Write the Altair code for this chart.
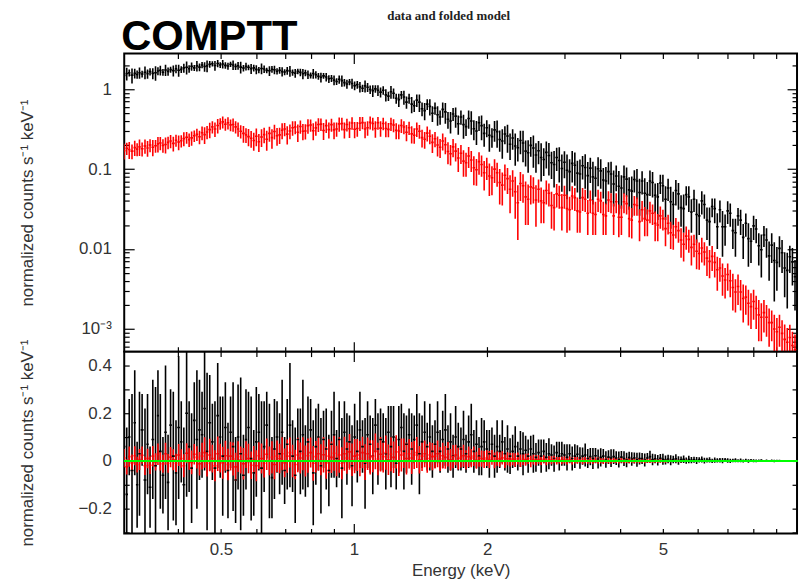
import altair as alt
import pandas as pd

# Spectral bin edges (keV), shared by both data groups
energy_edges = [0.300, 0.304, 0.308, 0.312, 0.317, 0.321, 0.325, 0.329, 0.334, 0.339,
                0.343, 0.348, 0.353, 0.358, 0.362, 0.367, 0.372, 0.377, 0.382, 0.387,
                0.393, 0.398, 0.404, 0.409, 0.415, 0.421, 0.426, 0.432, 0.438, 0.444,
                0.450, 0.456, 0.462, 0.468, 0.475, 0.481, 0.488, 0.495, 0.501, 0.508,
                0.515, 0.522, 0.529, 0.536, 0.543, 0.550, 0.558, 0.566, 0.573, 0.581,
                0.589, 0.597, 0.605, 0.613, 0.622, 0.630, 0.639, 0.648, 0.656, 0.665,
                0.674, 0.683, 0.692, 0.701, 0.711, 0.721, 0.731, 0.741, 0.751, 0.761,
                0.771, 0.781, 0.792, 0.803, 0.814, 0.825, 0.836, 0.847, 0.859, 0.871,
                0.883, 0.895, 0.907, 0.919, 0.932, 0.945, 0.957, 0.970, 0.983, 0.996,
                1.010, 1.024, 1.038, 1.052, 1.066, 1.080, 1.095, 1.110, 1.125, 1.140,
                1.156, 1.172, 1.188, 1.204, 1.220, 1.237, 1.254, 1.271, 1.288, 1.305,
                1.323, 1.341, 1.359, 1.377, 1.396, 1.415, 1.435, 1.454, 1.474, 1.494,
                1.514, 1.535, 1.555, 1.576, 1.598, 1.620, 1.642, 1.664, 1.686, 1.709,
                1.733, 1.757, 1.780, 1.804, 1.829, 1.854, 1.879, 1.905, 1.930, 1.956,
                1.983, 2.010, 2.037, 2.065, 2.093, 2.121, 2.150, 2.179, 2.209, 2.239,
                2.269, 2.300, 2.331, 2.363, 2.395, 2.428, 2.460, 2.493, 2.528, 2.562,
                2.597, 2.632, 2.668, 2.704, 2.741, 2.778, 2.816, 2.854, 2.893, 2.932,
                2.972, 3.012, 3.053, 3.094, 3.137, 3.180, 3.222, 3.266, 3.311, 3.356,
                3.401, 3.447, 3.494, 3.541, 3.590, 3.639, 3.688, 3.738, 3.789, 3.840,
                3.892, 3.945, 3.999, 4.053, 4.108, 4.164, 4.220, 4.277, 4.336, 4.395,
                4.454, 4.514, 4.578, 4.640, 4.703, 4.767, 4.832, 4.898, 4.964, 5.031,
                5.100, 5.169, 5.239, 5.310, 5.383, 5.456, 5.530, 5.605, 5.681, 5.758,
                5.837, 5.916, 5.997, 6.078, 6.161, 6.245, 6.329, 6.415, 6.502, 6.590,
                6.680, 6.771, 6.863, 6.956, 7.050, 7.146, 7.243, 7.341, 7.441, 7.542,
                7.645, 7.749, 7.854, 7.961, 8.069, 8.179, 8.289, 8.402, 8.516, 8.632,
                8.749, 8.868, 8.988, 9.110, 9.234, 9.359, 9.487, 9.616, 9.746, 9.878,
                10.013]

# Black data group: normalized counts s^-1 keV^-1, 1-sigma errors, residuals
black_rate = [1.49, 1.57, 1.60, 1.50, 1.58, 1.53, 1.61, 1.55, 1.63, 1.56,
              1.66, 1.58, 1.61, 1.69, 1.72, 1.63, 1.74, 1.67, 1.76, 1.71,
              1.80, 1.73, 1.77, 1.85, 1.88, 1.80, 1.93, 1.85, 1.96, 1.89,
              2.01, 1.92, 1.96, 2.05, 2.08, 1.98, 2.10, 2.01, 2.07, 1.99,
              1.95, 2.05, 2.01, 1.92, 1.97, 1.89, 1.84, 1.93, 1.88, 1.81,
              1.85, 1.77, 1.74, 1.82, 1.79, 1.72, 1.70, 1.78, 1.75, 1.68,
              1.73, 1.66, 1.64, 1.71, 1.69, 1.62, 1.59, 1.67, 1.63, 1.56,
              1.60, 1.53, 1.49, 1.57, 1.52, 1.45, 1.41, 1.47, 1.42, 1.35,
              1.37, 1.30, 1.25, 1.33, 1.28, 1.21, 1.16, 1.23, 1.18, 1.11,
              1.14, 1.07, 1.03, 1.10, 1.06, 0.99, 0.96, 1.01, 0.97, 0.92,
              0.97, 0.85, 0.82, 0.93, 0.89, 0.77, 0.74, 0.85, 0.80, 0.69,
              0.77, 0.65, 0.62, 0.73, 0.69, 0.57, 0.54, 0.65, 0.61, 0.50,
              0.58, 0.48, 0.45, 0.56, 0.52, 0.42, 0.40, 0.49, 0.46, 0.37,
              0.45, 0.36, 0.34, 0.43, 0.40, 0.32, 0.30, 0.38, 0.35, 0.28,
              0.33, 0.265, 0.255, 0.31, 0.295, 0.235, 0.225, 0.275, 0.26, 0.205,
              0.245, 0.195, 0.185, 0.228, 0.212, 0.168, 0.160, 0.198, 0.184, 0.150,
              0.170, 0.140, 0.132, 0.162, 0.148, 0.120, 0.114, 0.140, 0.128, 0.102,
              0.122, 0.097, 0.093, 0.118, 0.112, 0.089, 0.087, 0.110, 0.105, 0.083,
              0.103, 0.080, 0.077, 0.101, 0.095, 0.073, 0.071, 0.093, 0.087, 0.065,
              0.082, 0.061, 0.058, 0.080, 0.075, 0.055, 0.053, 0.074, 0.071, 0.051,
              0.071, 0.050, 0.048, 0.071, 0.068, 0.047, 0.045, 0.067, 0.062, 0.042,
              0.058, 0.039, 0.036, 0.054, 0.049, 0.033, 0.032, 0.048, 0.045, 0.029,
              0.042, 0.027, 0.026, 0.040, 0.036, 0.023, 0.022, 0.034, 0.032, 0.019,
              0.031, 0.019, 0.019, 0.030, 0.028, 0.017, 0.016, 0.026, 0.023, 0.014,
              0.0210, 0.0135, 0.0125, 0.0195, 0.0178, 0.0110, 0.0098, 0.0150, 0.0130, 0.0082,
              0.0112, 0.0072, 0.0068, 0.0102, 0.0090, 0.0058, 0.0054, 0.0080, 0.0069, 0.0045]
black_err = [0.20, 0.28, 0.16, 0.32, 0.22, 0.18, 0.26, 0.15, 0.30, 0.21,
             0.17, 0.25, 0.33, 0.19, 0.24, 0.16, 0.28, 0.20, 0.15, 0.27,
             0.22, 0.30, 0.17, 0.24, 0.35, 0.19, 0.23, 0.16, 0.29, 0.21,
             0.18, 0.26, 0.33, 0.20, 0.16, 0.28, 0.22, 0.17, 0.25, 0.19,
             0.20, 0.15, 0.27, 0.18, 0.22, 0.32, 0.17, 0.21, 0.15, 0.26,
             0.18, 0.23, 0.16, 0.28, 0.19, 0.14, 0.24, 0.17, 0.21, 0.15,
             0.17, 0.22, 0.14, 0.19, 0.26, 0.15, 0.20, 0.13, 0.18, 0.23,
             0.15, 0.19, 0.13, 0.22, 0.16, 0.14, 0.20, 0.12, 0.17, 0.15,
             0.14, 0.18, 0.12, 0.16, 0.21, 0.13, 0.15, 0.11, 0.17, 0.14,
             0.13, 0.16, 0.11, 0.19, 0.14, 0.12, 0.16, 0.11, 0.15, 0.13,
             0.12, 0.15, 0.11, 0.17, 0.13, 0.11, 0.14, 0.10, 0.16, 0.12,
             0.11, 0.15, 0.10, 0.13, 0.17, 0.11, 0.13, 0.10, 0.14, 0.11,
             0.10, 0.13, 0.09, 0.12, 0.15, 0.10, 0.12, 0.09, 0.13, 0.10,
             0.09, 0.12, 0.08, 0.11, 0.13, 0.09, 0.10, 0.08, 0.12, 0.09,
             0.08, 0.10, 0.07, 0.09, 0.11, 0.07, 0.09, 0.07, 0.10, 0.075,
             0.07, 0.085, 0.06, 0.075, 0.09, 0.06, 0.07, 0.055, 0.08, 0.06,
             0.055, 0.07, 0.05, 0.06, 0.065, 0.045, 0.055, 0.045, 0.06, 0.05,
             0.045, 0.055, 0.04, 0.05, 0.05, 0.038, 0.045, 0.036, 0.048, 0.04,
             0.036, 0.044, 0.032, 0.04, 0.038, 0.03, 0.035, 0.029, 0.037, 0.031,
             0.029, 0.034, 0.026, 0.031, 0.03, 0.024, 0.028, 0.023, 0.029, 0.025,
             0.023, 0.027, 0.021, 0.025, 0.024, 0.019, 0.022, 0.018, 0.023, 0.019,
             0.018, 0.021, 0.016, 0.019, 0.018, 0.014, 0.016, 0.013, 0.016, 0.013,
             0.013, 0.015, 0.011, 0.013, 0.012, 0.010, 0.011, 0.009, 0.011, 0.009,
             0.0095, 0.011, 0.008, 0.0095, 0.009, 0.007, 0.008, 0.0065, 0.008, 0.0065,
             0.0068, 0.0075, 0.0058, 0.0065, 0.006, 0.0048, 0.0054, 0.0044, 0.0052, 0.0042,
             0.0045, 0.005, 0.0038, 0.0043, 0.004, 0.0033, 0.0036, 0.003, 0.0034, 0.0028]
black_resid = [0.06, -0.14, 0.10, -0.04, 0.16, -0.10, 0.03, 0.13, -0.08, 0.07,
               -0.11, 0.09, -0.02, 0.19, 0.04, -0.06, 0.12, -0.09, 0.15, 0.02,
               -0.05, 0.14, 0.08, -0.10, 0.20, 0.06, -0.03, 0.17, 0.09, 0.13,
               0.11, 0.22, 0.04, 0.16, 0.08, -0.03, 0.19, 0.10, 0.02, 0.14,
               -0.04, 0.12, 0.06, -0.08, 0.10, 0.03, -0.06, 0.09, 0.14, 0.01,
               -0.05, 0.08, 0.12, -0.03, 0.06, 0.15, 0.00, -0.07, 0.05, 0.10,
               0.03, 0.12, -0.04, 0.07, 0.15, 0.02, -0.06, 0.09, 0.04, 0.11,
               0.00, 0.08, 0.13, -0.05, 0.06, 0.10, -0.02, 0.09, 0.05, -0.04,
               0.07, 0.11, 0.01, 0.09, -0.03, 0.12, 0.05, 0.08, -0.02, 0.10,
               0.04, 0.13, 0.06, -0.01, 0.11, 0.07, 0.02, 0.15, 0.05, 0.09,
               0.08, 0.03, 0.12, 0.06, 0.10, -0.01, 0.09, 0.14, 0.04, 0.07,
               0.11, 0.05, 0.09, 0.15, 0.03, 0.08, 0.12, 0.06, 0.10, 0.04,
               0.07, 0.12, 0.04, 0.09, 0.13, 0.05, 0.08, 0.02, 0.10, 0.06,
               0.05, 0.09, 0.03, 0.08, 0.11, 0.04, 0.07, 0.02, 0.06, 0.08,
               0.05, 0.03, 0.07, 0.02, 0.06, 0.04, 0.08, 0.03, 0.05, 0.02,
               0.04, 0.06, 0.02, 0.05, 0.03, 0.045, 0.02, 0.05, 0.03, 0.015,
               0.035, 0.02, 0.04, 0.015, 0.03, 0.025, 0.01, 0.035, 0.02, 0.03,
               0.025, 0.015, 0.03, 0.01, 0.02, 0.028, 0.012, 0.02, 0.025, 0.01,
               0.018, 0.01, 0.022, 0.008, 0.015, 0.02, 0.006, 0.016, 0.012, 0.018,
               0.012, 0.006, 0.016, 0.01, 0.004, 0.014, 0.008, 0.012, 0.005, 0.01,
               0.01, 0.004, 0.012, 0.018, 0.006, 0.009, 0.003, 0.011, 0.007, 0.004,
               0.008, 0.003, 0.006, 0.009, 0.002, 0.005, 0.007, 0.001, 0.006, 0.003,
               0.005, 0.002, 0.004, 0.006, 0.001, 0.003, 0.004, 0.0, 0.003, 0.002,
               0.003, 0.001, 0.004, 0.002, 0.0, 0.002, 0.003, 0.001, 0.002, 0.0,
               0.002, 0.0, 0.002, 0.001, 0.0, 0.001, 0.002, 0.0, 0.001, 0.0,
               0.001, 0.0, 0.001, 0.0005, 0.0, 0.001, 0.0, 0.0005, 0.0, 0.0]

# Red data group
red_rate = [0.170, 0.182, 0.176, 0.168, 0.186, 0.178, 0.190, 0.180, 0.195, 0.184,
            0.200, 0.188, 0.196, 0.207, 0.212, 0.198, 0.203, 0.216, 0.225, 0.210,
            0.230, 0.218, 0.226, 0.241, 0.250, 0.234, 0.246, 0.262, 0.272, 0.254,
            0.285, 0.270, 0.292, 0.312, 0.338, 0.318, 0.352, 0.372, 0.390, 0.365,
            0.380, 0.358, 0.362, 0.338, 0.318, 0.298, 0.280, 0.268, 0.255, 0.243,
            0.228, 0.258, 0.220, 0.252, 0.270, 0.236, 0.280, 0.248, 0.296, 0.262,
            0.268, 0.306, 0.318, 0.274, 0.300, 0.330, 0.336, 0.290, 0.342, 0.298,
            0.300, 0.350, 0.356, 0.302, 0.328, 0.362, 0.366, 0.305, 0.350, 0.312,
            0.360, 0.310, 0.318, 0.368, 0.372, 0.312, 0.362, 0.320, 0.378, 0.316,
            0.322, 0.375, 0.382, 0.318, 0.330, 0.385, 0.372, 0.322, 0.380, 0.326,
            0.372, 0.322, 0.314, 0.370, 0.356, 0.306, 0.300, 0.352, 0.336, 0.290,
            0.330, 0.276, 0.266, 0.318, 0.298, 0.248, 0.236, 0.282, 0.258, 0.216,
            0.240, 0.200, 0.188, 0.225, 0.202, 0.166, 0.156, 0.190, 0.168, 0.138,
            0.158, 0.126, 0.120, 0.146, 0.130, 0.104, 0.098, 0.124, 0.114, 0.090,
            0.106, 0.082, 0.078, 0.100, 0.090, 0.068, 0.063, 0.084, 0.076, 0.056,
            0.071, 0.052, 0.038, 0.066, 0.062, 0.045, 0.042, 0.060, 0.058, 0.041,
            0.056, 0.040, 0.038, 0.054, 0.050, 0.035, 0.033, 0.049, 0.047, 0.033,
            0.047, 0.032, 0.031, 0.046, 0.044, 0.030, 0.029, 0.044, 0.042, 0.028,
            0.041, 0.028, 0.027, 0.042, 0.040, 0.027, 0.026, 0.041, 0.039, 0.026,
            0.039, 0.025, 0.025, 0.039, 0.037, 0.024, 0.023, 0.036, 0.035, 0.022,
            0.031, 0.024, 0.023, 0.030, 0.028, 0.021, 0.020, 0.026, 0.024, 0.018,
            0.021, 0.016, 0.015, 0.019, 0.017, 0.013, 0.0115, 0.0145, 0.0132, 0.0105,
            0.0115, 0.0094, 0.0088, 0.0103, 0.0092, 0.0077, 0.0070, 0.0081, 0.0068, 0.0055,
            0.0058, 0.0046, 0.0041, 0.0048, 0.0040, 0.0033, 0.0029, 0.0034, 0.0029, 0.0024,
            0.0025, 0.0021, 0.0019, 0.0022, 0.0018, 0.0015, 0.0014, 0.0016, 0.0014, 0.0012,
            0.0012, 0.00100, 0.00092, 0.00105, 0.00088, 0.00074, 0.00068, 0.00078, 0.00062, 0.00055]
red_err = [0.038, 0.032, 0.042, 0.035, 0.040, 0.033, 0.044, 0.036, 0.039, 0.041,
           0.037, 0.043, 0.036, 0.045, 0.040, 0.038, 0.046, 0.039, 0.042, 0.044,
           0.040, 0.046, 0.039, 0.048, 0.042, 0.045, 0.050, 0.043, 0.047, 0.049,
           0.056, 0.064, 0.055, 0.068, 0.058, 0.065, 0.072, 0.060, 0.067, 0.063,
           0.066, 0.060, 0.069, 0.059, 0.064, 0.057, 0.066, 0.056, 0.062, 0.058,
           0.058, 0.065, 0.056, 0.063, 0.059, 0.066, 0.060, 0.068, 0.062, 0.066,
           0.062, 0.069, 0.060, 0.070, 0.063, 0.068, 0.062, 0.072, 0.065, 0.069,
           0.065, 0.072, 0.063, 0.073, 0.066, 0.070, 0.065, 0.074, 0.067, 0.071,
           0.066, 0.073, 0.064, 0.074, 0.067, 0.071, 0.066, 0.075, 0.068, 0.072,
           0.067, 0.074, 0.066, 0.075, 0.068, 0.072, 0.067, 0.075, 0.068, 0.072,
           0.066, 0.072, 0.064, 0.071, 0.066, 0.070, 0.063, 0.069, 0.062, 0.067,
           0.062, 0.067, 0.059, 0.065, 0.058, 0.062, 0.056, 0.060, 0.053, 0.057,
           0.052, 0.056, 0.050, 0.054, 0.048, 0.051, 0.045, 0.049, 0.043, 0.046,
           0.042, 0.046, 0.040, 0.043, 0.038, 0.041, 0.036, 0.039, 0.034, 0.036,
           0.033, 0.036, 0.031, 0.033, 0.030, 0.032, 0.028, 0.030, 0.027, 0.028,
           0.026, 0.028, 0.025, 0.026, 0.024, 0.025, 0.022, 0.024, 0.021, 0.022,
           0.018, 0.019, 0.017, 0.018, 0.016, 0.017, 0.016, 0.016, 0.015, 0.016,
           0.015, 0.016, 0.014, 0.015, 0.014, 0.014, 0.013, 0.014, 0.013, 0.013,
           0.013, 0.013, 0.012, 0.013, 0.012, 0.012, 0.011, 0.012, 0.011, 0.011,
           0.011, 0.011, 0.010, 0.011, 0.010, 0.010, 0.0095, 0.010, 0.009, 0.0095,
           0.009, 0.0095, 0.0085, 0.009, 0.008, 0.0085, 0.0075, 0.008, 0.007, 0.0072,
           0.0058, 0.006, 0.0052, 0.0055, 0.005, 0.0052, 0.0045, 0.0047, 0.0042, 0.0043,
           0.0036, 0.0038, 0.0033, 0.0035, 0.003, 0.0031, 0.0027, 0.0028, 0.0024, 0.0025,
           0.0019, 0.002, 0.0017, 0.0018, 0.0015, 0.0016, 0.0013, 0.0014, 0.0012, 0.0012,
           0.0010, 0.0010, 0.0009, 0.0009, 0.0008, 0.0008, 0.0007, 0.0007, 0.0006, 0.0006,
           0.0005, 0.0005, 0.00045, 0.00045, 0.0004, 0.0004, 0.00035, 0.00035, 0.0003, 0.0003]
red_resid = [0.012, -0.025, 0.018, -0.008, 0.022, -0.015, 0.006, 0.024, -0.02, 0.01,
             -0.018, 0.02, -0.004, 0.028, 0.0, -0.012, 0.03, -0.01, 0.016, 0.005,
             -0.01, 0.025, 0.01, -0.02, 0.032, 0.008, -0.006, 0.028, 0.015, -0.012,
             0.02, 0.035, -0.01, 0.025, 0.01, -0.02, 0.03, 0.012, -0.008, 0.022,
             -0.015, 0.02, 0.008, -0.025, 0.018, 0.004, -0.012, 0.026, 0.01, -0.018,
             0.005, -0.02, 0.022, 0.01, -0.01, 0.028, 0.0, 0.015, -0.015, 0.02,
             0.01, 0.03, -0.008, 0.02, 0.035, 0.0, -0.015, 0.025, 0.012, 0.03,
             0.0, 0.022, 0.035, -0.01, 0.018, 0.03, 0.005, 0.026, -0.008, 0.02,
             0.015, 0.032, 0.0, 0.025, -0.01, 0.03, 0.012, 0.038, 0.005, 0.02,
             0.025, 0.01, 0.035, -0.005, 0.03, 0.015, 0.02, 0.04, 0.008, 0.028,
             0.018, 0.035, 0.005, 0.028, 0.015, 0.038, 0.0, 0.025, 0.032, 0.01,
             0.03, 0.012, 0.025, 0.035, 0.005, 0.02, 0.03, 0.01, 0.025, 0.018,
             0.02, 0.03, 0.008, 0.022, 0.015, 0.028, 0.005, 0.018, 0.025, 0.01,
             0.015, 0.022, 0.005, 0.018, 0.012, 0.02, 0.003, 0.015, 0.01, 0.006,
             0.012, 0.006, 0.015, 0.002, 0.01, 0.008, 0.013, 0.0, 0.009, 0.005,
             0.008, 0.004, 0.01, 0.001, 0.007, 0.005, 0.009, -0.002, 0.006, 0.003,
             0.006, 0.002, 0.007, 0.0, 0.005, 0.003, 0.006, 0.001, 0.004, 0.002,
             0.004, 0.001, 0.005, 0.0, 0.003, 0.002, 0.004, 0.0, 0.003, 0.001,
             0.003, 0.0, 0.003, 0.001, 0.002, -0.001, 0.002, 0.001, 0.0, 0.002,
             0.002, 0.0, 0.002, 0.001, 0.001, 0.0, 0.002, 0.0, 0.001, 0.0,
             0.001, 0.0, 0.001, 0.0005, 0.0, 0.001, 0.0, 0.0005, 0.0, 0.0,
             0.0005, 0.0, 0.0003, 0.0, 0.0, 0.0002, 0.0, 0.0, 0.0, 0.0,
             0.0, 0.0, 0.0, 0.0, 0.0, 0.0, 0.0, 0.0, 0.0, 0.0,
             0.0, 0.0, 0.0, 0.0, 0.0, 0.0, 0.0, 0.0, 0.0, 0.0,
             0.0, 0.0, 0.0, 0.0, 0.0, 0.0, 0.0, 0.0, 0.0, 0.0,
             0.0, 0.0, 0.0, 0.0, 0.0, 0.0, 0.0, 0.0, 0.0, 0.0]

# Axis tick positions
x_minor = [0.4, 0.5, 0.6, 0.7, 0.8, 0.9, 2, 3, 4, 5, 6, 7, 8, 9]
x_major = [1]
x_labels = [0.5, 1, 2, 5]
y_top_minor = [6e-4, 7e-4, 8e-4, 9e-4,
               2e-3, 3e-3, 4e-3, 5e-3, 6e-3, 7e-3, 8e-3, 9e-3,
               0.02, 0.03, 0.04, 0.05, 0.06, 0.07, 0.08, 0.09,
               0.2, 0.3, 0.4, 0.5, 0.6, 0.7, 0.8, 0.9, 2]
y_top_major = [1e-3, 0.01, 0.1, 1]
y_res_ticks = [-0.3, -0.2, -0.1, 0, 0.1, 0.2, 0.3, 0.4]

rows = []
for name, rate, err, resid in (("black", black_rate, black_err, black_resid),
                               ("red", red_rate, red_err, red_resid)):
    for i in range(len(rate)):
        e_lo, e_hi = energy_edges[i], energy_edges[i + 1]
        rows.append(dict(series=name, e=(e_lo * e_hi) ** 0.5, e_lo=e_lo, e_hi=e_hi,
                         rate=rate[i], rate_lo=max(rate[i] - err[i], 1e-6),
                         rate_hi=rate[i] + err[i], resid=resid[i],
                         resid_lo=resid[i] - err[i], resid_hi=resid[i] + err[i]))
df = pd.DataFrame(rows)

W = 677
H_TOP = 300
H_BOT = 183
MINOR = 5
MAJOR = 10
STROKE = 1.6
LABEL_FONT = "Liberation Sans"
TEXT_COLOR = "#333333"
YTITLE = "normalized counts s\u207b\u00b9 keV\u207b\u00b9"
TITLE_X = -88  # y-title baseline position, measured from the frame's left edge

xscale = alt.Scale(type="log", domain=[0.302, 10.05], nice=False)
yscale_top = alt.Scale(type="log", domain=[5.2e-4, 2.8], nice=False)
yscale_bot = alt.Scale(domain=[-0.304, 0.458], nice=False, zero=False)
color = alt.Color("series:N", scale=alt.Scale(domain=["black", "red"], range=["#000000", "#ff0000"]), legend=None)


def tick_axis(orient, values, size, **kw):
    # Inward-pointing ticks: axis pulled inside the frame by the tick length
    return alt.Axis(orient=orient, values=values, tickSize=size, offset=-size, domain=False,
                    grid=False, labels=False, ticks=True, tickColor="black", tickWidth=1.2, **kw)


def label_axis(orient, values, size, pad, **kw):
    return alt.Axis(orient=orient, values=values, tickSize=size, offset=-size, domain=False,
                    grid=False, ticks=True, tickColor="black", tickWidth=1.2,
                    labelFont=LABEL_FONT, labelFontSize=17, labelColor=TEXT_COLOR,
                    labelPadding=pad, labelOverlap=False, labelFlush=False,
                    titleFont=LABEL_FONT, titleFontSize=17, titleColor=TEXT_COLOR,
                    titleFontWeight="normal", **kw)


def guide_layer(yfield, yscale, xaxis, yaxis):
    x = alt.X("e:Q", scale=xscale, axis=xaxis, title=None) if xaxis is not None else alt.X("e:Q", scale=xscale, axis=None)
    y = alt.Y(f"{yfield}:Q", scale=yscale, axis=yaxis, title=None) if yaxis is not None else alt.Y(f"{yfield}:Q", scale=yscale, axis=None)
    return alt.Chart(df).mark_point(opacity=0).encode(x=x, y=y)


# ---- upper panel: data and folded model ----
top_err = alt.Chart(df).mark_rule(clip=True, strokeWidth=STROKE).encode(
    x=alt.X("e:Q", scale=xscale, axis=tick_axis("bottom", x_minor, MINOR), title=None),
    y=alt.Y("rate_lo:Q", scale=yscale_top, axis=tick_axis("left", y_top_minor, MINOR), title=None),
    y2="rate_hi:Q",
    color=color,
)
top_bin = alt.Chart(df).mark_rule(clip=True, strokeWidth=STROKE).encode(
    x=alt.X("e_lo:Q", scale=xscale, axis=None),
    x2="e_hi:Q",
    y=alt.Y("rate:Q", scale=yscale_top, axis=None),
    color=color,
)
top_major = guide_layer(
    "rate", yscale_top,
    tick_axis("bottom", x_major, MAJOR),
    label_axis("left", y_top_major, MAJOR, 13,
               labelExpr="datum.value < 0.005 ? '10\u207b\u00b3' : format(datum.value, '~g')",
               title=YTITLE, titleX=TITLE_X - MAJOR, titleY=H_TOP / 2, titleAngle=-90,
               titleBaseline="bottom"),
)
top_mirror_minor = guide_layer("rate", yscale_top, tick_axis("top", x_minor, MINOR),
                               tick_axis("right", y_top_minor, MINOR))
top_mirror_major = guide_layer("rate", yscale_top, tick_axis("top", x_major, MAJOR),
                               tick_axis("right", y_top_major, MAJOR))

top = alt.layer(top_err, top_bin, top_major, top_mirror_minor, top_mirror_major).resolve_axis(
    x="independent", y="independent"
).properties(
    width=W, height=H_TOP,
    title=alt.TitleParams("COMPTT", anchor="start", frame="group", font=LABEL_FONT, fontSize=42,
                          fontWeight="bold", color="black", offset=-6, dx=-3),
)

# ---- lower panel: residuals ----
bot_err = alt.Chart(df).mark_rule(clip=True, strokeWidth=STROKE).encode(
    x=alt.X("e:Q", scale=xscale, axis=tick_axis("bottom", x_minor, MINOR), title=None),
    y=alt.Y("resid_lo:Q", scale=yscale_bot,
            axis=label_axis("left", y_res_ticks, MINOR, 13, format=".1~f",
                            labelExpr="abs(round(datum.value * 10)) % 2 == 0 ? datum.label : ''",
                            titleX=TITLE_X - MINOR, titleY=H_BOT / 2,
                            titleAngle=-90, titleBaseline="bottom"),
            title=YTITLE),
    y2="resid_hi:Q",
    color=color,
)
bot_bin = alt.Chart(df).mark_rule(clip=True, strokeWidth=STROKE).encode(
    x=alt.X("e_lo:Q", scale=xscale, axis=None),
    x2="e_hi:Q",
    y=alt.Y("resid:Q", scale=yscale_bot, axis=None),
    color=color,
)
zero_line = alt.Chart(df).mark_rule(color="#00ff00", strokeWidth=2).encode(
    y=alt.datum(0, scale=yscale_bot, axis=None),
)
bot_major = guide_layer("resid", yscale_bot, tick_axis("bottom", x_major, MAJOR), None)
bot_mirror = guide_layer("resid", yscale_bot, tick_axis("top", x_minor, MINOR),
                         tick_axis("right", y_res_ticks, MINOR))
bot_mirror_major = guide_layer("resid", yscale_bot, tick_axis("top", x_major, MAJOR), None)
bot_labels = guide_layer(
    "resid", yscale_bot,
    alt.Axis(orient="bottom", values=x_labels, ticks=False, domain=False, grid=False,
             format="~g", labelFont=LABEL_FONT, labelFontSize=17, labelColor=TEXT_COLOR,
             labelPadding=8, labelOverlap=False, labelFlush=False,
             title="Energy (keV)", titleFont=LABEL_FONT, titleFontSize=17, titleColor=TEXT_COLOR,
             titleFontWeight="normal", titlePadding=5),
    None,
)

bot = alt.layer(bot_err, bot_bin, zero_line, bot_major, bot_mirror, bot_mirror_major, bot_labels).resolve_axis(
    x="independent", y="independent"
).properties(width=W, height=H_BOT)

chart = alt.vconcat(top, bot, spacing=0, bounds="flush").properties(
    title=alt.TitleParams("data and folded model", anchor="middle", frame="group",
                          font="Liberation Serif", fontSize=13, fontWeight="bold",
                          color="#222222", offset=-8, dx=-12),
    padding={"left": 17, "top": 8, "right": 2, "bottom": 2},
    background="white",
).configure_view(stroke="#000000", strokeWidth=2)

chart.save("out.html", embed_options={"renderer": "svg", "actions": False})
